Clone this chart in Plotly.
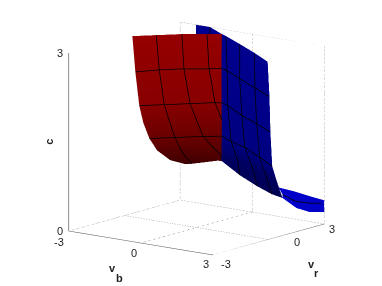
import plotly.graph_objects as go

vb_ticks = [-3, 0, 3]
vr_ticks = [-3, 0, 3]
c_ticks = [0, 3]

red_vb = [[-2.93,-2.40,-1.83,-1.18,-0.79],
          [-2.83,-2.40,-1.85,-1.20,-0.92],
          [-2.96,-2.40,-1.82,-1.27,-1.05],
          [-2.88,-2.39,-1.78,-1.11,-1.11],
          [-2.84,-2.27,-1.63,-1.17,-1.17],
          [-3.00,-2.39,-1.48,-1.22,-1.22],
          [-3.00,-2.52,-1.24,-1.24,-1.24],
          [-2.79,-2.50,-1.76,-1.43,-1.26]]
red_vr = [[0.34,0.94,1.58,2.09,2.39],
          [0.37,1.10,1.72,2.23,2.55],
          [0.75,1.37,2.01,2.64,2.72],
          [0.86,1.62,2.29,2.80,2.80],
          [1.14,1.78,2.47,2.88,2.88],
          [1.77,2.21,2.70,2.94,2.94],
          [2.46,2.65,2.98,2.98,2.98],
          [3.00,3.00,3.00,3.00,3.00]]
red_c = [[3.00,3.00,3.00,3.00,3.00],
         [2.40,2.40,2.40,2.40,2.40],
         [1.79,1.79,1.79,1.79,1.79],
         [1.50,1.50,1.50,1.50,1.50],
         [1.21,1.21,1.21,1.21,1.21],
         [0.94,0.98,1.05,0.98,0.98],
         [0.72,0.80,0.86,0.86,0.86],
         [0.62,0.645,0.73,0.77,0.77]]

blue_vb = [[-2.34,-1.76,-0.79,-0.50,0.61,1.84,3.00],
           [-2.34,-1.76,-0.92,-0.54,0.53,1.77,3.00],
           [-2.34,-1.76,-1.05,-0.60,0.71,1.84,3.00],
           [-2.34,-1.76,-1.17,-0.44,0.48,1.80,3.00],
           [-2.34,-1.76,-1.22,-0.37,0.53,1.41,2.17],
           [-2.34,-1.76,-1.26,-0.52,0.19,0.81,1.26]]
blue_vr = [[3.00,3.00,2.39,2.23,1.54,0.75,-0.05],
           [3.00,3.00,2.55,2.35,1.64,0.85,0.05],
           [3.00,3.00,2.72,2.46,1.53,0.86,0.10],
           [3.00,3.00,2.88,2.43,1.98,1.07,0.20],
           [3.00,3.00,2.94,2.70,2.40,2.00,1.50],
           [3.00,3.00,3.00,3.00,3.00,3.00,3.00]]
blue_c = [[3.00]*7,
          [2.40]*7,
          [1.80]*7,
          [1.21]*7,
          [1.00,1.00,0.98,0.87,0.77,0.72,0.81],
          [0.90,0.90,0.77,0.585,0.45,0.355,0.32]]

tail_vb = [[3.00,3.00,3.00,3.00],
           [2.42,2.57,2.76,3.00],
           [1.26,1.84,2.38,3.00]]
tail_vr = [[0.54,1.39,2.20,3.00],
           [1.50,2.00,2.50,2.99],
           [3.00,3.00,3.00,3.00]]
tail_c = [[0.83,0.69,0.54,0.40],
          [0.59,0.44,0.38,0.35],
          [0.32,0.19,0.16,0.20]]

R = 1.14
ASPECT = 1.316
EYE = (0.597, -0.7726, 0.2147)
FLAT = dict(ambient=1, diffuse=0, specular=0, roughness=1, fresnel=0)
RED_SCALE = [[0, "#3c0000"], [0.25, "#6a0000"], [0.5, "#880000"], [1, "#960000"]]
BLUE_SCALE = [[0, "#000050"], [0.2, "#000060"], [0.33, "#000080"], [1, "#000090"]]
TAIL_SCALE = [[0, "#0000c8"], [1, "#0000c8"]]

fig = go.Figure()


def surf(x, y, z, scale, cmin, cmax):
    fig.add_trace(go.Surface(x=x, y=y, z=z, surfacecolor=z, colorscale=scale, cmin=cmin, cmax=cmax,
                             showscale=False, lighting=FLAT, hoverinfo="skip"))


def line(xs, ys, zs, color, width=1, dash="solid", lift=0.0):
    fig.add_trace(go.Scatter3d(x=[a + EYE[0] * lift for a in xs], y=[a + EYE[1] * lift for a in ys],
                               z=[a + EYE[2] * lift * 0.5 for a in zs], mode="lines",
                               line=dict(color=color, width=width, dash=dash),
                               hoverinfo="skip", showlegend=False))


surf(red_vb, red_vr, red_c, RED_SCALE, 0.6, 3.0)
surf(blue_vb, blue_vr, blue_c, BLUE_SCALE, 0.3, 3.0)
surf(tail_vb, tail_vr, tail_c, TAIL_SCALE, 0, 1)

LIFT = 0.07
MESH = 1.5
for r in (1, 2, 4):
    line(red_vb[r], red_vr[r], red_c[r], "black", MESH, lift=LIFT)
for col, last in ((1, 8), (2, 7), (3, 4)):
    line([q[col] for q in red_vb[:last]], [q[col] for q in red_vr[:last]], [q[col] for q in red_c[:last]],
         "black", MESH, lift=LIFT)
for r in (1, 2, 3):
    line(blue_vb[r][2:], blue_vr[r][2:], blue_c[r][2:], "black", MESH, lift=LIFT)
for col in (1, 3, 4, 5):
    line([q[col] for q in blue_vb], [q[col] for q in blue_vr], [q[col] for q in blue_c], "black", MESH, lift=LIFT)
line(tail_vb[1], tail_vr[1], tail_c[1], "black", MESH, lift=LIFT)

lo, hi = vb_ticks[0], vb_ticks[-1]
top = c_ticks[-1]
GRID = "#707070"
line([lo, lo, hi], [lo, hi, hi], [top, top, top], GRID, 1, "dot")
line([lo, lo, hi], [lo, hi, hi], [0, 0, 0], GRID, 1, "dot")
line([lo, lo], [hi, hi], [0, top], GRID, 1, "dot")
line([hi, hi], [hi, hi], [0, top], GRID, 1, "dot")
line([0, 0], [hi, hi], [0, top], GRID, 1, "dot")
line([0, 0], [lo, hi], [0, 0], GRID, 1, "dot")
line([lo, hi], [0, 0], [0, 0], GRID, 1, "dot")
line([lo, hi, hi], [lo, lo, hi], [0, 0, 0], "#555555", 1)
line([lo, lo], [lo, lo], [0, top], "#8c8c8c", 2)


def note(x, y, z, text, dx, dy, bold=False, angle=0):
    return dict(x=x, y=y, z=z, text=f"<b>{text}</b>" if bold else str(text), showarrow=False,
                xshift=dx, yshift=dy, textangle=angle,
                font=dict(family="Liberation Sans", size=11, color="#222222"))


notes = [note(lo, lo, c_ticks[0], c_ticks[0], -9, 0), note(lo, lo, c_ticks[1], c_ticks[1], -9, 0),
         note(vb_ticks[0], lo, 0, vb_ticks[0], -10, -11), note(vb_ticks[1], lo, 0, vb_ticks[1], -7, -10),
         note(vb_ticks[2], lo, 0, vb_ticks[2], -7, -9),
         note(hi, vr_ticks[0], 0, vr_ticks[0], 13, -9), note(hi, vr_ticks[1], 0, vr_ticks[1], 28, -3),
         note(hi, vr_ticks[2], 0, vr_ticks[2], 8, -5),
         note(lo, lo, 1.5, "c", -20, 0, True, -90),
         note(0, lo, 0, "v", -28, -25, True), note(0, lo, 0, "b", -21, -35, True),
         note(hi, 0, 0, "v", 43, -25, True), note(hi, 0, 0, "r", 48, -34, True)]

hidden = dict(visible=False)
fig.update_layout(
    width=382, height=286, margin=dict(l=11, r=0, t=0, b=9), paper_bgcolor="white", showlegend=False,
    scene=dict(
        xaxis=dict(range=[-3, 3], **hidden), yaxis=dict(range=[-3, 3], **hidden), zaxis=dict(range=[0, 3], **hidden),
        aspectmode="manual", aspectratio=dict(x=ASPECT, y=ASPECT, z=ASPECT), bgcolor="white",
        camera=dict(eye=dict(x=EYE[0] * R, y=EYE[1] * R, z=EYE[2] * R),
                    center=dict(x=0, y=0, z=0), up=dict(x=0, y=0, z=1),
                    projection=dict(type="orthographic")),
        annotations=notes))
fig.write_html("out.html", config=dict(displayModeBar=False),
               post_script="document.body.style.margin='0';document.body.style.overflow='hidden';")
